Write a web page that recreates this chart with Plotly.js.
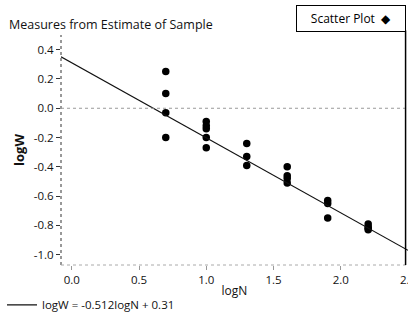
<!DOCTYPE html>
<html><head><meta charset="utf-8">
<script src="https://cdn.plot.ly/plotly-3.0.1.min.js"></script>
<style>html,body{margin:0;padding:0;background:#fff;}#chart{width:408px;height:327px;}</style>
</head><body><div id="chart"></div>
<script>
const logN = [0.699,0.699,0.699,0.699, 1.0,1.0,1.0,1.0,1.0, 1.301,1.301,1.301, 1.602,1.602,1.602,1.602, 1.903,1.903,1.903, 2.204,2.204,2.204,2.204];
const logW = [0.25,0.10,-0.03,-0.20, -0.09,-0.12,-0.14,-0.20,-0.27, -0.24,-0.33,-0.39, -0.40,-0.46,-0.48,-0.51, -0.63,-0.65,-0.75, -0.79,-0.81,-0.82,-0.83];
const slope = -0.512, intercept = 0.31;
const fitLabel = 'logW = -0.512logN + 0.31';
const xTicks = [0, 0.5, 1.0, 1.5, 2.0, 2.5];
const yTicks = [-1.0, -0.8, -0.6, -0.4, -0.2, 0.0, 0.2, 0.4];
const xRange = [-0.08, 2.5], yRange = [-1.07, 0.5];
const fitX = [xRange[0], xRange[1]];
const fitY = fitX.map(v => slope * v + intercept);

const font = {family: 'Open Sans, Lato, sans-serif', size: 11.5, color: '#111'};
const data = [
  {x: logN, y: logW, mode: 'markers', type: 'scatter', showlegend: false,
   marker: {color: '#000', size: 7.5}},
  {x: fitX, y: fitY, mode: 'lines', type: 'scatter', name: fitLabel, showlegend: true,
   line: {color: '#111', width: 1.2}}
];
const layout = {
  width: 408, height: 327,
  margin: {l: 61, r: 0, t: 35, b: 62},
  paper_bgcolor: '#fff', plot_bgcolor: '#fff',
  font: font,
  title: {text: 'Measures from Estimate of Sample', font: {family: font.family, size: 12.5, color: '#111'},
          xref: 'container', x: 0.022, xanchor: 'left', yref: 'container', y: 1 - 25/327, yanchor: 'middle'},
  xaxis: {range: xRange, tickvals: xTicks, ticktext: xTicks.map(v => v.toFixed(1)),
          showgrid: false, zeroline: false, showline: false, ticklabeloverflow: 'allow',
          ticks: 'outside', ticklen: 4, tickcolor: '#999', tickfont: font,
          title: {text: 'logN', font: {family: font.family, size: 12, color: '#111'}, standoff: 0},
          automargin: false},
  yaxis: {range: yRange, tickvals: yTicks, ticktext: yTicks.map(v => v.toFixed(1)),
          showgrid: false, zeroline: false, showline: false,
          ticks: 'outside', ticklen: 4, tickcolor: '#333', tickfont: font,
          title: {text: 'logW', font: {family: font.family, size: 13, color: '#111', weight: 'bold'}, standoff: 6},
          automargin: false},
  showlegend: true,
  legend: {orientation: 'h', x: -0.17, xanchor: 'left', y: -0.11, yanchor: 'top',
           font: font, bgcolor: 'rgba(0,0,0,0)'},
  shapes: [
    {type: 'line', xref: 'paper', yref: 'paper', x0: 0, x1: 0, y0: 0, y1: 1,
     line: {color: '#333', width: 1, dash: 'dot'}},
    {type: 'line', xref: 'paper', yref: 'paper', x0: 0, x1: 1, y0: 0, y1: 0,
     line: {color: '#aaa', width: 1, dash: 'dot'}},
    {type: 'line', xref: 'paper', yref: 'y', x0: 0, x1: 1, y0: 0, y1: 0,
     line: {color: '#999', width: 1, dash: 'dot'}},
    {type: 'line', xref: 'paper', yref: 'paper', x0: 0.993, x1: 0.993, y0: 0, y1: 1.02,
     line: {color: '#000', width: 1.5}}
  ],
  annotations: [
    {text: 'Scatter Plot  ◆', xref: 'paper', yref: 'paper', x: 0.993, y: 1.0 + 16/230,
     xanchor: 'right', yanchor: 'middle', showarrow: false,
     font: {family: font.family, size: 12, color: '#000'},
     bordercolor: '#000', borderwidth: 1, borderpad: 4, bgcolor: '#fff', width: 100}
  ]
};
Plotly.newPlot('chart', data, layout, {displayModeBar: false, staticPlot: true});
</script></body></html>
